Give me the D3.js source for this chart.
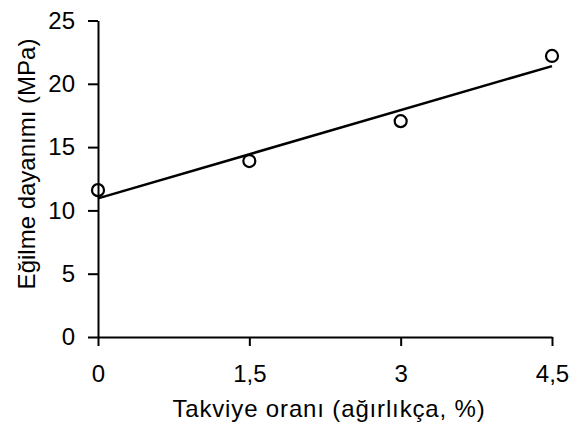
<!DOCTYPE html>
<html><head><meta charset="utf-8">
<script src="https://cdn.jsdelivr.net/npm/d3@7"></script>
<style>body{margin:0;background:#fff;} svg{display:block;} text{font-family:"Liberation Sans",Arial,sans-serif;fill:#000;}</style>
</head><body>
<script>
const xVals = [0, 1.5, 3, 4.5];
const yVals = [11.6, 13.9, 17.05, 22.2];
const fitX = [0, 4.5];
const fitY = [10.95, 21.4];
const xTicks = [0, 1.5, 3, 4.5];
const xTickLabels = ["0", "1,5", "3", "4,5"];
const yTicks = [0, 5, 10, 15, 20, 25];
const xTitle = "Takviye oranı (ağırlıkça, %)";
const yTitle = "Eğilme dayanımı (MPa)";

const W = 574, H = 438;
const svg = d3.select("body").append("svg").attr("width", W).attr("height", H);
const x = d3.scaleLinear().domain([0, 4.5]).range([98, 552]);
const y = d3.scaleLinear().domain([0, 25]).range([337, 20.5]);

const xAxis = d3.axisBottom(x).tickValues(xTicks).tickFormat((d,i)=>xTickLabels[i]).tickSize(9).tickPadding(19).tickSizeOuter(0);
const gx = svg.append("g").attr("transform", "translate(0,337)").call(xAxis);
gx.select(".domain").attr("stroke", "#000").attr("stroke-width", 2);
gx.selectAll(".tick line").attr("stroke", "#000").attr("stroke-width", 2);
gx.selectAll(".tick text").style("font-size", "24px").attr("font-family", null);

const yAxis = d3.axisLeft(y).tickValues(yTicks).tickSize(10).tickPadding(13).tickSizeOuter(0);
const gy = svg.append("g").attr("transform", "translate(98,0)").call(yAxis);
gy.select(".domain").attr("stroke", "#000").attr("stroke-width", 2);
gy.selectAll(".tick line").attr("stroke", "#000").attr("stroke-width", 2);
gy.selectAll(".tick text").style("font-size", "24px").attr("font-family", null);

const line = d3.line().x(d=>x(d[0])).y(d=>y(d[1]));
svg.append("path").datum(fitX.map((v,i)=>[v, fitY[i]]))
  .attr("d", line).attr("fill", "none").attr("stroke", "#000").attr("stroke-width", 2.5);

svg.selectAll("circle.pt").data(xVals.map((v,i)=>[v, yVals[i]])).enter().append("circle")
  .attr("class","pt").attr("cx", d=>x(d[0])).attr("cy", d=>y(d[1])).attr("r", 6)
  .attr("fill", "none").attr("stroke", "#000").attr("stroke-width", 2.2);

svg.append("text").attr("x", 329).attr("y", 417).attr("text-anchor", "middle")
  .style("font-size", "24px").style("letter-spacing", "0.85px").text(xTitle);
svg.append("text").attr("transform", "translate(35,164) rotate(-90)").attr("text-anchor", "middle")
  .style("font-size", "24px").text(yTitle);
</script>
</body></html>
